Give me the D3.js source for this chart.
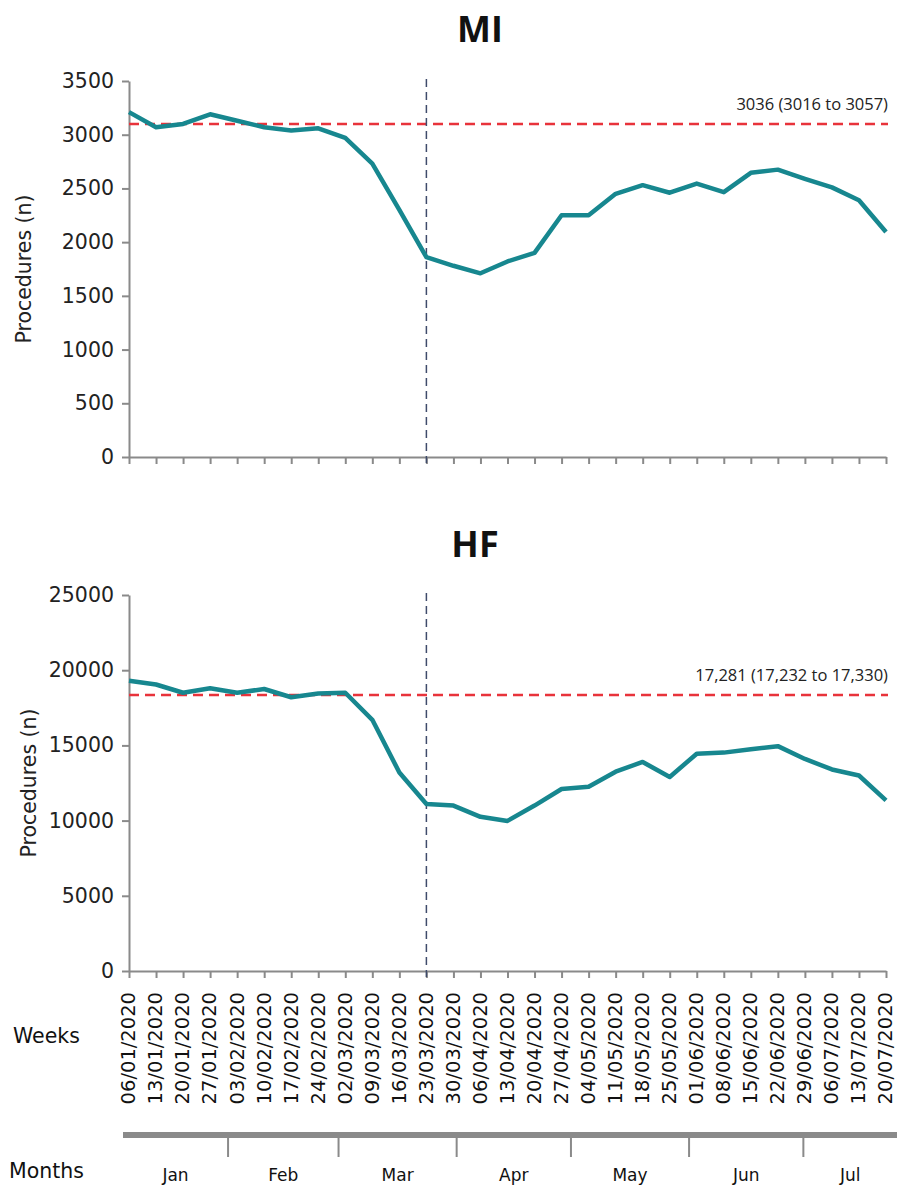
<!DOCTYPE html>
<html>
<head>
<meta charset="utf-8">
<script src="https://cdn.jsdelivr.net/npm/d3@7"></script>
<style>
  body { margin: 0; background: #fff; }
  svg { display: block; }
</style>
</head>
<body>
<svg width="897" height="1186"></svg>
<script>
// weekly data (week starting)
var weeks = ['06/01/2020','13/01/2020','20/01/2020','27/01/2020','03/02/2020','10/02/2020','17/02/2020',
  '24/02/2020','02/03/2020','09/03/2020','16/03/2020','23/03/2020','30/03/2020','06/04/2020','13/04/2020',
  '20/04/2020','27/04/2020','04/05/2020','11/05/2020','18/05/2020','25/05/2020','01/06/2020','08/06/2020',
  '15/06/2020','22/06/2020','29/06/2020','06/07/2020','13/07/2020','20/07/2020'];

var miValues = [3210, 3070, 3100, 3190, 3130, 3070, 3040, 3060, 2970, 2730, 2300, 1860, 1780, 1710,
  1820, 1900, 2250, 2250, 2450, 2530, 2460, 2545, 2465, 2645, 2675, 2590, 2510, 2390, 2095];

var hfValues = [19300, 19050, 18500, 18800, 18500, 18750, 18200, 18450, 18500, 16700, 13200, 11100,
  11000, 10250, 9980, 11000, 12100, 12250, 13250, 13900, 12900, 14450, 14520, 14750, 14950, 14100,
  13400, 13000, 11350];

var miRef = 3100, miRefLabel = '3036 (3016 to 3057)';
var hfRef = 18350, hfRefLabel = '17,281 (17,232 to 17,330)';
var lockdownWeek = '23/03/2020';

var months = ['Jan','Feb','Mar','Apr','May','Jun','Jul'];
var monthStarts = ['2020-01-01','2020-02-01','2020-03-01','2020-04-01','2020-05-01','2020-06-01','2020-07-01','2020-08-01'];

var svg = d3.select('svg');
var teal = '#17878f';
var axisCol = '#8a8a8a';
var tickFont = 'DejaVu Sans, Verdana, sans-serif';

var x = d3.scalePoint().domain(weeks).range([129, 886]).padding(0);

function panel(cfg){
  var y = d3.scaleLinear().domain([0, cfg.max]).range([cfg.bottom, cfg.top]);
  var g = svg.append('g');

  // title
  g.append('text')
    .attr('x', cfg.titleX).attr('y', cfg.titleY)
    .attr('text-anchor','middle')
    .style('font-family','Open Sans, Liberation Sans, sans-serif')
    .style('font-weight','bold')
    .style('font-size','36px')
    .attr('fill','#111')
    .text(cfg.title);

  // y axis
  var ya = g.append('g')
    .attr('transform', `translate(${x.range()[0]},0)`)
    .call(d3.axisLeft(y).tickValues(d3.range(0, cfg.max + 1, cfg.step)).tickFormat(d3.format('d'))
      .tickSize(7).tickSizeOuter(0).tickPadding(8));
  ya.selectAll('path, line').attr('stroke', axisCol).attr('stroke-width', 2);
  ya.selectAll('text').style('font-family', tickFont).style('font-size','20.5px').attr('fill','#222');

  // x axis
  var xa = g.append('g')
    .attr('transform', `translate(0,${cfg.bottom})`)
    .call(d3.axisBottom(x).tickSize(7).tickSizeOuter(0));
  xa.selectAll('path, line').attr('stroke', axisCol).attr('stroke-width', 2);
  if(cfg.weekLabels){
    xa.selectAll('text')
      .attr('transform','rotate(-90)')
      .attr('x', -21).attr('y', 0).attr('dy','0.3em')
      .style('text-anchor','end')
      .style('font-family', tickFont).style('font-size','19.5px').attr('fill','#111');
  } else {
    xa.selectAll('text').remove();
  }

  // y label
  g.append('text')
    .attr('transform', `translate(${cfg.labelX},${(cfg.top + cfg.bottom) / 2}) rotate(-90)`)
    .attr('text-anchor','middle')
    .style('font-family', tickFont).style('font-size','20.5px').attr('fill','#222')
    .text('Procedures (n)');

  // reference line
  g.append('line')
    .attr('x1', x.range()[0]).attr('x2', x.range()[1] + 2)
    .attr('y1', y(cfg.ref)).attr('y2', y(cfg.ref))
    .attr('stroke', '#e8333b').attr('stroke-width', 2.5)
    .attr('stroke-dasharray', '10,6');
  g.append('text')
    .attr('x', x.range()[1] + 2).attr('y', y(cfg.ref) - 14)
    .attr('text-anchor','end')
    .style('font-family','Open Sans, Noto Sans, sans-serif').style('font-size','16.5px').attr('fill','#222')
    .text(cfg.refLabel);

  // lockdown line
  g.append('line')
    .attr('x1', x(lockdownWeek)).attr('x2', x(lockdownWeek))
    .attr('y1', cfg.top - 2).attr('y2', cfg.bottom + 6)
    .attr('stroke', '#3f4b6b').attr('stroke-width', 1.5)
    .attr('stroke-dasharray', '8,5');

  // series
  var line = d3.line().x(function(d, i){ return x(weeks[i]); }).y(function(d){ return y(d); });
  g.append('path')
    .datum(cfg.values)
    .attr('d', line)
    .attr('fill','none')
    .attr('stroke', teal)
    .attr('stroke-width', 4.5)
    .attr('stroke-linejoin','round');
}

panel({title:'MI', titleX: 480, titleY: 42, top: 81, bottom: 457, max: 3500, step: 500,
  values: miValues, ref: miRef, refLabel: miRefLabel, labelX: 31, weekLabels: false});
panel({title:'HF', titleX: 475, titleY: 557, top: 595, bottom: 971, max: 25000, step: 5000,
  values: hfValues, ref: hfRef, refLabel: hfRefLabel, labelX: 36, weekLabels: true});

// side labels
svg.append('text').attr('x', 13).attr('y', 1043)
  .style('font-family', tickFont).style('font-size','20.5px').attr('fill','#111').text('Weeks');
svg.append('text').attr('x', 9).attr('y', 1178)
  .style('font-family', tickFont).style('font-size','20.5px').attr('fill','#111').text('Months');

// months bar
var parse = d3.timeParse('%Y-%m-%d');
var mx = d3.scaleTime().domain([parse('2020-01-06'), parse('2020-07-27')]).range([129, 129 + 203 * 3.81]);
var barL = 123, barR = 897, barY = 1135;
svg.append('line').attr('x1', barL).attr('x2', barR).attr('y1', barY).attr('y2', barY)
  .attr('stroke', '#8a8a8a').attr('stroke-width', 6);
var starts = monthStarts.map(parse);
svg.selectAll('.mtick').data(starts.slice(1, 7)).enter().append('line')
  .attr('class','mtick')
  .attr('x1', function(d){ return mx(d); }).attr('x2', function(d){ return mx(d); })
  .attr('y1', barY + 2).attr('y2', barY + 22)
  .attr('stroke', '#8a8a8a').attr('stroke-width', 2);
svg.selectAll('.mlab').data(months).enter().append('text')
  .attr('class','mlab')
  .attr('x', function(d, i){
    var a = Math.max(barL, mx(starts[i])), b = Math.min(barR, mx(starts[i + 1]));
    return (a + b) / 2;
  })
  .attr('y', 1181)
  .attr('text-anchor','middle')
  .style('font-family', tickFont).style('font-size','17px').attr('fill','#111')
  .text(function(d){ return d; });
</script>
</body>
</html>
